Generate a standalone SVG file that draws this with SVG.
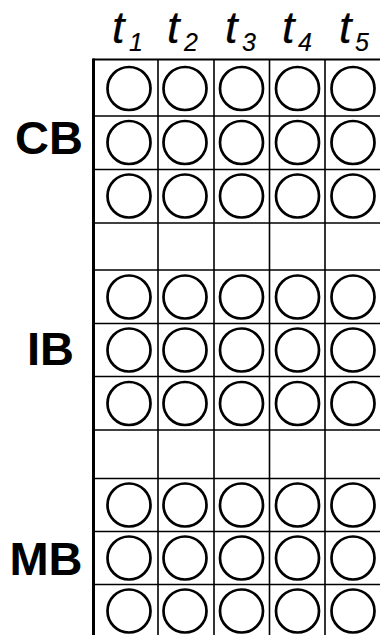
<svg xmlns="http://www.w3.org/2000/svg" width="380" height="635" viewBox="0 0 380 635">
<style>
.grid{stroke:#000;stroke-width:1.6;fill:none}
.border{stroke:#000;fill:none}
.c{fill:#fff;stroke:#000;stroke-width:2.7}
.t{font-family:"Liberation Sans",Arial,sans-serif;font-style:italic;font-size:45px;fill:#000;stroke:#000;stroke-width:0.25}
.s{font-size:25px;stroke-width:0.15}
.lab{font-family:"Liberation Sans",Arial,sans-serif;font-weight:bold;font-size:47px;fill:#000;text-anchor:end}
</style>
<rect width="380" height="635" fill="#fff"/>
<g id="grid">
<g class="grid">
<line x1="158" y1="59" x2="158" y2="635"/>
<line x1="214" y1="59" x2="214" y2="635"/>
<line x1="269.5" y1="59" x2="269.5" y2="635"/>
<line x1="325" y1="59" x2="325" y2="635"/>
<line x1="93" y1="116" x2="380" y2="116"/>
<line x1="93" y1="169.5" x2="380" y2="169.5"/>
<line x1="93" y1="223" x2="380" y2="223"/>
<line x1="93" y1="270" x2="380" y2="270"/>
<line x1="93" y1="323.5" x2="380" y2="323.5"/>
<line x1="93" y1="376.5" x2="380" y2="376.5"/>
<line x1="93" y1="430" x2="380" y2="430"/>
<line x1="93" y1="478.5" x2="380" y2="478.5"/>
<line x1="93" y1="531.5" x2="380" y2="531.5"/>
<line x1="93" y1="584.5" x2="380" y2="584.5"/>
</g>
<line class="border" x1="93" y1="59.5" x2="380" y2="59.5" stroke-width="2.2"/>
<line class="border" x1="93.5" y1="58.5" x2="93.5" y2="635" stroke-width="3"/>
</g>
<g id="headers">
<text class="t" x="112" y="43">t<tspan class="s" x="129" y="51">1</tspan></text>
<text class="t" x="167" y="43">t<tspan class="s" x="184" y="51">2</tspan></text>
<text class="t" x="225" y="43">t<tspan class="s" x="242" y="51">3</tspan></text>
<text class="t" x="282" y="43">t<tspan class="s" x="298" y="51">4</tspan></text>
<text class="t" x="339" y="43">t<tspan class="s" x="355" y="51">5</tspan></text>
</g>
<g id="labels">
<text id="CB" class="lab" x="83" y="153.5">CB</text>
<text id="IB" class="lab" x="74" y="364.5">IB</text>
<text id="MB" class="lab" x="82.5" y="574.5">MB</text>
</g>
<g id="CB-r1"><circle class="c" cx="129" cy="88.5" r="21.5"/><circle class="c" cx="185" cy="88.5" r="21.5"/><circle class="c" cx="241.5" cy="88.5" r="21.5"/><circle class="c" cx="297.5" cy="88.5" r="21.5"/><circle class="c" cx="353" cy="88.5" r="21.5"/></g>
<g id="CB-r2"><circle class="c" cx="129" cy="142.5" r="21.5"/><circle class="c" cx="185" cy="142.5" r="21.5"/><circle class="c" cx="241.5" cy="142.5" r="21.5"/><circle class="c" cx="297.5" cy="142.5" r="21.5"/><circle class="c" cx="353" cy="142.5" r="21.5"/></g>
<g id="CB-r3"><circle class="c" cx="129" cy="196" r="21.5"/><circle class="c" cx="185" cy="196" r="21.5"/><circle class="c" cx="241.5" cy="196" r="21.5"/><circle class="c" cx="297.5" cy="196" r="21.5"/><circle class="c" cx="353" cy="196" r="21.5"/></g>
<g id="IB-r1"><circle class="c" cx="129" cy="297" r="21.5"/><circle class="c" cx="185" cy="297" r="21.5"/><circle class="c" cx="241.5" cy="297" r="21.5"/><circle class="c" cx="297.5" cy="297" r="21.5"/><circle class="c" cx="353" cy="297" r="21.5"/></g>
<g id="IB-r2"><circle class="c" cx="129" cy="350" r="21.5"/><circle class="c" cx="185" cy="350" r="21.5"/><circle class="c" cx="241.5" cy="350" r="21.5"/><circle class="c" cx="297.5" cy="350" r="21.5"/><circle class="c" cx="353" cy="350" r="21.5"/></g>
<g id="IB-r3"><circle class="c" cx="129" cy="403.5" r="21.5"/><circle class="c" cx="185" cy="403.5" r="21.5"/><circle class="c" cx="241.5" cy="403.5" r="21.5"/><circle class="c" cx="297.5" cy="403.5" r="21.5"/><circle class="c" cx="353" cy="403.5" r="21.5"/></g>
<g id="MB-r1"><circle class="c" cx="129" cy="505" r="21.5"/><circle class="c" cx="185" cy="505" r="21.5"/><circle class="c" cx="241.5" cy="505" r="21.5"/><circle class="c" cx="297.5" cy="505" r="21.5"/><circle class="c" cx="353" cy="505" r="21.5"/></g>
<g id="MB-r2"><circle class="c" cx="129" cy="558" r="21.5"/><circle class="c" cx="185" cy="558" r="21.5"/><circle class="c" cx="241.5" cy="558" r="21.5"/><circle class="c" cx="297.5" cy="558" r="21.5"/><circle class="c" cx="353" cy="558" r="21.5"/></g>
<g id="MB-r3"><circle class="c" cx="129" cy="611" r="21.5"/><circle class="c" cx="185" cy="611" r="21.5"/><circle class="c" cx="241.5" cy="611" r="21.5"/><circle class="c" cx="297.5" cy="611" r="21.5"/><circle class="c" cx="353" cy="611" r="21.5"/></g>
</svg>
